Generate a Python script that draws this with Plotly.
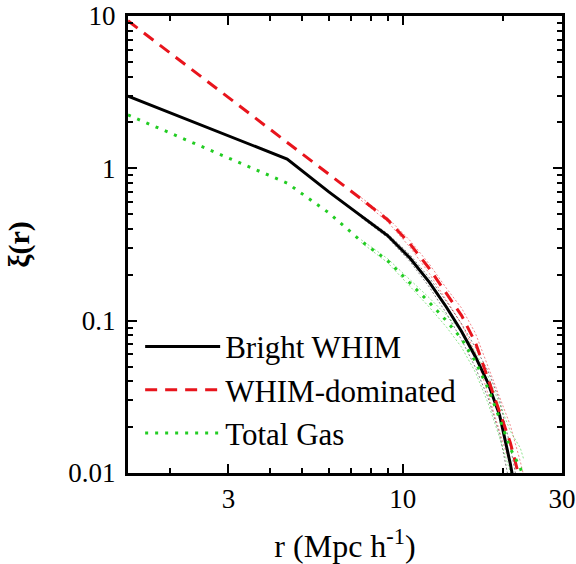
import plotly.graph_objects as go

# Data (r in Mpc/h, xi(r))
r = [1.5, 4.5, 6, 7.5, 9, 10.5, 12, 13.5, 15, 16.5, 18, 19.5, 21, 22.5, 23]
xi_bright = [2.98, 1.15, 0.70, 0.485, 0.362, 0.258, 0.179, 0.123, 0.085, 0.058, 0.039, 0.024, 0.0115, 0.005, 0.003]
xi_whim = [9.3, 1.49, 0.91, 0.63, 0.46, 0.32, 0.22, 0.15, 0.108, 0.072, 0.042, 0.025, 0.0158, 0.0088, 0.0072]
xi_total = [2.24, 0.80, 0.51, 0.333, 0.248, 0.177, 0.132, 0.100, 0.076, 0.054, 0.036, 0.0228, 0.0145, 0.0108, 0.0092]
# relative spread of the dotted error envelopes
rel_err = [0.0, 0.0, 0.01, 0.02, 0.03, 0.05, 0.07, 0.09, 0.12, 0.15, 0.2, 0.25, 0.3, 0.35, 0.35]

names = ["Bright WHIM", "WHIM-dominated", "Total Gas"]
colors = ["#000000", "#e8141c", "#22cc22"]
dashes = ["solid", "12px,8px", "3px,7px"]
series = [xi_bright, xi_whim, xi_total]

x_tickvals = [3, 10, 30]
x_ticktext = ["3", "10", "30"]
x_minor = [2, 4, 5, 6, 7, 8, 9, 20]
y_tickvals = [0.01, 0.1, 1, 10]
y_ticktext = ["0.01", "0.1", "1", "10"]
y_minor = [m * d for d in (0.01, 0.1, 1) for m in range(2, 10)]

fig = go.Figure()

# error envelopes (thin dotted lines)
for ys, c in zip(series, colors):
    up = [v * (1 + e) for v, e in zip(ys, rel_err)]
    lo = [v * (1 - e) for v, e in zip(ys, rel_err)]
    for b in (up, lo):
        fig.add_trace(go.Scatter(x=r[3:], y=b[3:], mode="lines", showlegend=False,
                                 hoverinfo="skip", opacity=0.5,
                                 line=dict(color=c, width=1, dash="2px,2px")))

for ys, n, c, d in zip(series, names, colors, dashes):
    fig.add_trace(go.Scatter(x=r, y=ys, mode="lines", name=n,
                             line=dict(color=c, width=3, dash=d)))

axis_common = dict(
    showline=True, linecolor="black", linewidth=3, mirror="ticks",
    ticks="inside", ticklen=9, tickwidth=2, tickcolor="black",
    showgrid=False, zeroline=False, automargin=False,
    tickfont=dict(family="Liberation Serif", size=27, color="black"),
)

fig.update_xaxes(type="log", range=[0.1761, 1.4771],
                 tickvals=x_tickvals, ticktext=x_ticktext,
                 minor=dict(tickvals=x_minor, ticks="inside", ticklen=5,
                            tickwidth=2, tickcolor="black", showgrid=False),
                 title=dict(text="r (Mpc h<sup>-1</sup>)", standoff=26,
                            font=dict(family="Liberation Serif", size=32, color="black")),
                 **axis_common)
fig.update_yaxes(type="log", range=[-2, 1],
                 tickvals=y_tickvals, ticktext=y_ticktext, ticklabelstandoff=4,
                 minor=dict(tickvals=y_minor, ticks="inside", ticklen=5,
                            tickwidth=2, tickcolor="black", showgrid=False),
                 title=dict(text="<b>ξ(r)</b>", standoff=30,
                            font=dict(family="Liberation Serif", size=30, color="black")),
                 **axis_common)

fig.update_layout(
    width=576, height=564,
    margin=dict(l=128, r=14, t=16, b=91),
    paper_bgcolor="white", plot_bgcolor="white",
    legend=dict(x=0.028, y=0.029, xanchor="left", yanchor="bottom",
                bgcolor="rgba(0,0,0,0)", itemwidth=75, tracegroupgap=0,
                font=dict(family="Liberation Serif", size=31, color="black")),
)

fig.write_html("out.html")
